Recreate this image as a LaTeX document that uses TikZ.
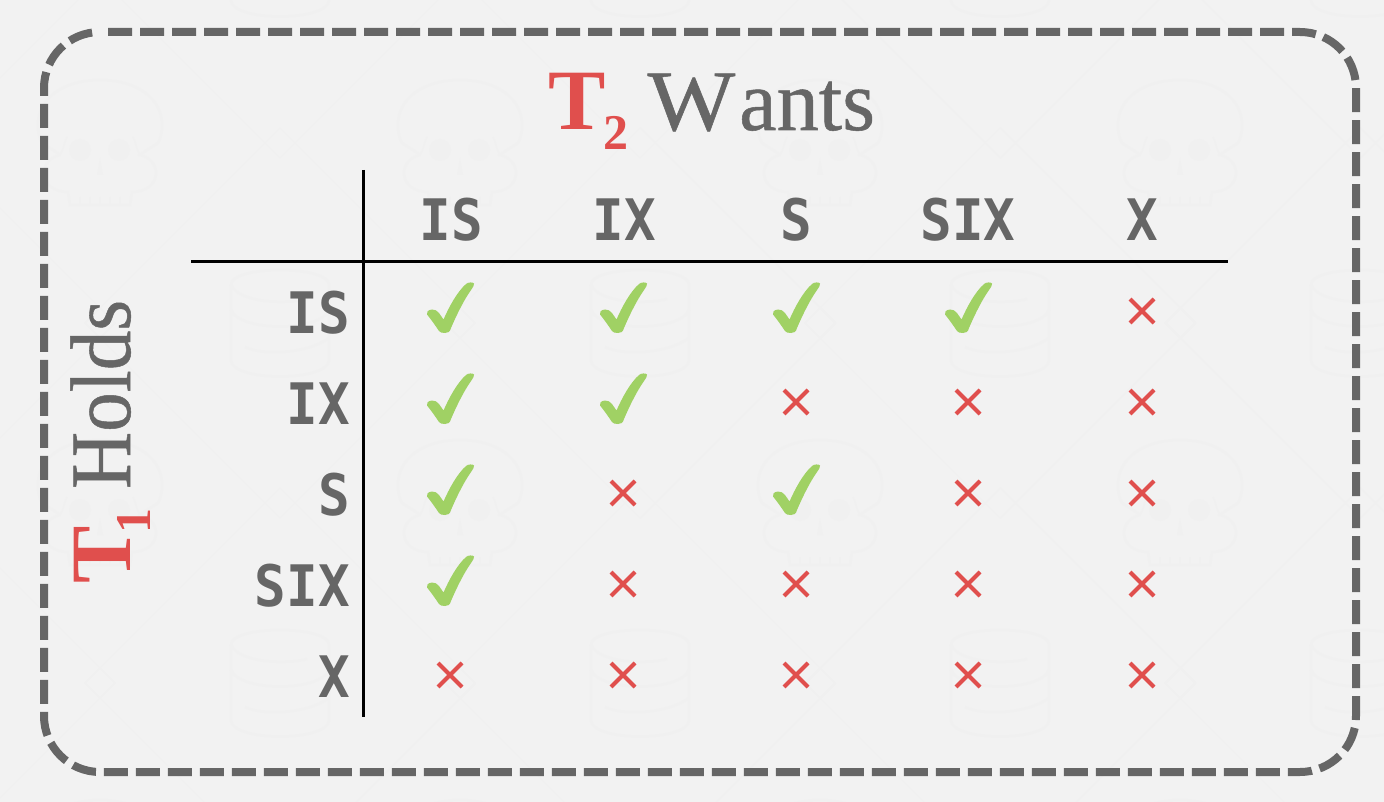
\documentclass[tikz,border=0pt]{standalone}
\usepackage{fontspec}
\setmainfont{Liberation Serif}
\newfontfamily\lockfont{DejaVu Sans Mono}[BoldFont={DejaVu Sans Mono Bold}]
\newfontfamily\titlefont{Liberation Serif}[FakeBold=0.6]
\definecolor{bgc}{HTML}{F2F2F2}
\definecolor{wmc}{HTML}{F0F0F0}
\definecolor{txtg}{HTML}{666666}
\definecolor{tred}{HTML}{E04F4D}
\definecolor{tgreen}{HTML}{A0D164}
\tikzset{
  wm/.style={draw=wmc,line width=2.5pt,fill=none},
  wmthin/.style={draw=wmc,line width=1.4pt},
  lockhead/.style={font=\lockfont\bfseries\fontsize{52.5}{54}\selectfont,text=txtg,inner sep=0pt,anchor=base},
  lockrow/.style={font=\lockfont\bfseries\fontsize{52.5}{54}\selectfont,text=txtg,inner sep=0pt,anchor=base east},
  titletxt/.style={font=\fontsize{86}{86}\selectfont,text=txtg,inner sep=0pt,anchor=base west},
  axisline/.style={draw=black,line width=3pt},
  crossmark/.style={draw=tred,line width=4pt},
  frameline/.style={draw=txtg,line width=8pt,dash pattern=on 24pt off 8pt}
}
\newcommand{\lk}[1]{\scalebox{1}[1.09]{#1}}
\newcommand{\subd}[1]{{\bfseries\fontsize{50}{50}\selectfont\raisebox{-20pt}{#1}}}
\newcommand{\tg}[1]{{\titlefont\fontsize{86}{86}\selectfont #1}}
\newcommand{\wmskull}[2]{\begin{scope}[shift={(#1,#2)}]
  \draw[wm] (-40,10) .. controls (-45,6) and (-52,2) .. (-58,-2) .. controls (-62,-10) and (-62,-15) .. (-62,-20)
     .. controls (-62,-48) and (-35,-65) .. (0,-65)
     .. controls (35,-65) and (62,-48) .. (62,-20) .. controls (62,-15) and (62,-10) .. (58,-2)
     .. controls (52,2) and (45,6) .. (40,10)
     .. controls (50,12) and (56,20) .. (56,28) .. controls (56,40) and (45,47) .. (32,47) -- (30,60) -- (-30,60) -- (-32,47)
     .. controls (-45,47) and (-56,40) .. (-56,28) .. controls (-56,20) and (-50,12) .. (-40,10);
  \draw[wmthin] (-40,10) .. controls (-36,4) and (-36,-3) .. (-33,-8) (40,10) .. controls (36,4) and (36,-3) .. (33,-8);
  \fill[wmc] (-20,5) circle (11);
  \fill[wmc] (19,5) circle (11);
  \fill[wmc] (0,13) -- (3,30) -- (-3,30) -- cycle;
  \draw[wmthin] (-20,52)--(-20,60) (-10,52)--(-10,60) (0,52)--(0,60) (10,52)--(10,60) (20,52)--(20,60);
\end{scope}}
\newcommand{\wmcyl}[2]{\begin{scope}[shift={(#1,#2)}]
  \draw[wm] (-49,15) .. controls (-49,-5) and (49,-5) .. (49,15) -- (49,90) .. controls (49,112) and (-49,112) .. (-49,90) -- cycle;
  \draw[wm] (-49,15) .. controls (-40,34) and (10,34) .. (27,29);
  \draw[wm] (-49,40) .. controls (-40,62) and (40,62) .. (49,40);
  \draw[wm] (-35,77) .. controls (-20,85) and (25,85) .. (49,68);
\end{scope}}
\newcommand{\chkmark}[2]{\fill[tgreen,shift={(#1,#2)}]
  (16,-24) .. controls (18,-26) and (23,-26) .. (24,-24.5)
  .. controls (24.5,-23) and (23,-21) .. (21,-18)
  .. controls (14,-8) and (7,6) .. (1,20)
  .. controls (0,24) and (-2,25) .. (-5,25)
  .. controls (-8,25) and (-10,24.5) .. (-11,23)
  .. controls (-15,17) and (-20,10) .. (-23,6.5)
  .. controls (-24,4) and (-22,2) .. (-18,1.5)
  .. controls (-15,1) and (-13,3) .. (-11,5)
  -- (-6.5,11.5)
  .. controls (-1,-1) and (7,-16) .. (16,-24) -- cycle;}
\newcommand{\crossat}[2]{\draw[crossmark] (#1-12,#2-12) -- (#1+12,#2+12) (#1-12,#2+12) -- (#1+12,#2-12);}
\begin{document}
\begin{tikzpicture}[x=1pt,y=-1pt]
\useasboundingbox (0,0) rectangle (1384,802);
\fill[bgc] (0,0) rectangle (1384,802);
\begin{scope}
\clip (0,0) rectangle (1384,802);
\foreach \X in {-80,280,640,1000,1360,1720}{\foreach \Y in {143,503,863}{
  \draw[wmthin] (\X-15,\Y) -- (\X-195,\Y-180) (\X-15,\Y) -- (\X-195,\Y+180)
     (\X+15,\Y) -- (\X+195,\Y-180) (\X+15,\Y) -- (\X+195,\Y+180);
  \draw[wmthin] (\X-15,\Y) -- (\X,\Y-15) -- (\X+15,\Y) -- (\X,\Y+15) -- cycle;
}}
\foreach \X in {100,460,820,1180}{\foreach \Y in {-37,323,683}{
  \draw[wmthin] (\X-15,\Y) -- (\X,\Y-15) -- (\X+15,\Y) -- (\X,\Y+15) -- cycle;
}}
\foreach \X in {100,460,820,1180}{\foreach \Y in {145,505,865}{\wmskull{\X}{\Y}}}
\foreach \X in {280,640,1000,1360}{\foreach \Y in {-90,270,630}{\wmcyl{\X}{\Y}}}
\end{scope}
% frame
\draw[frameline] (108,32) -- (1300,32) .. controls (1331,32) and (1356,57) .. (1356,88)
  -- (1356,716) .. controls (1356,747) and (1331,772) .. (1300,772)
  -- (100,772) .. controls (69,772) and (44,747) .. (44,716)
  -- (44,88) .. controls (44,57) and (69,32) .. (100,32);
% titles
\node[titletxt] (wants) at (548,130) {{\color{tred}\bfseries T\kern-2pt\subd{2}}\hspace{19pt}\scalebox{1.08}[1]{\tg{W}}\hspace{4pt}\scalebox{.98}[1]{\tg{ants}}};
\node[titletxt,rotate=90] (holds) at (130,584) {{\color{tred}\bfseries T\kern-7pt\subd{1}}\hspace{19.5pt}\scalebox{.92}[1]{\tg{Holds}}};
% axes
\draw[axisline] (191,261.5) -- (1228,261.5);
\draw[axisline] (363.5,170) -- (363.5,717);
% column headings
\node[lockhead] (cIS) at (451,241) {\lk{IS}};
\node[lockhead] (cIX) at (624,241) {\lk{IX}};
\node[lockhead] (cS) at (796,241) {\lk{S}};
\node[lockhead] (cSIX) at (968,241) {\lk{SIX}};
\node[lockhead] (cX) at (1142,241) {\lk{X}};
% row headings
\node[lockrow] (rIS) at (350,333.5) {\lk{IS}};
\node[lockrow] (rIX) at (350,424.5) {\lk{IX}};
\node[lockrow] (rS) at (350,515.5) {\lk{S}};
\node[lockrow] (rSIX) at (350,606.5) {\lk{SIX}};
\node[lockrow] (rX) at (350,697.5) {\lk{X}};
% checks
\chkmark{450}{308}\chkmark{623}{308}\chkmark{796}{308}\chkmark{968}{308}
\chkmark{450}{399}\chkmark{623}{399}
\chkmark{450}{490}\chkmark{796}{490}
\chkmark{450}{581}
% crosses
\crossat{1142}{311}
\crossat{796}{402}\crossat{968}{402}\crossat{1142}{402}
\crossat{623}{493}\crossat{968}{493}\crossat{1142}{493}
\crossat{623}{584}\crossat{796}{584}\crossat{968}{584}\crossat{1142}{584}
\crossat{450}{675}\crossat{623}{675}\crossat{796}{675}\crossat{968}{675}\crossat{1142}{675}
\end{tikzpicture}
\end{document}
